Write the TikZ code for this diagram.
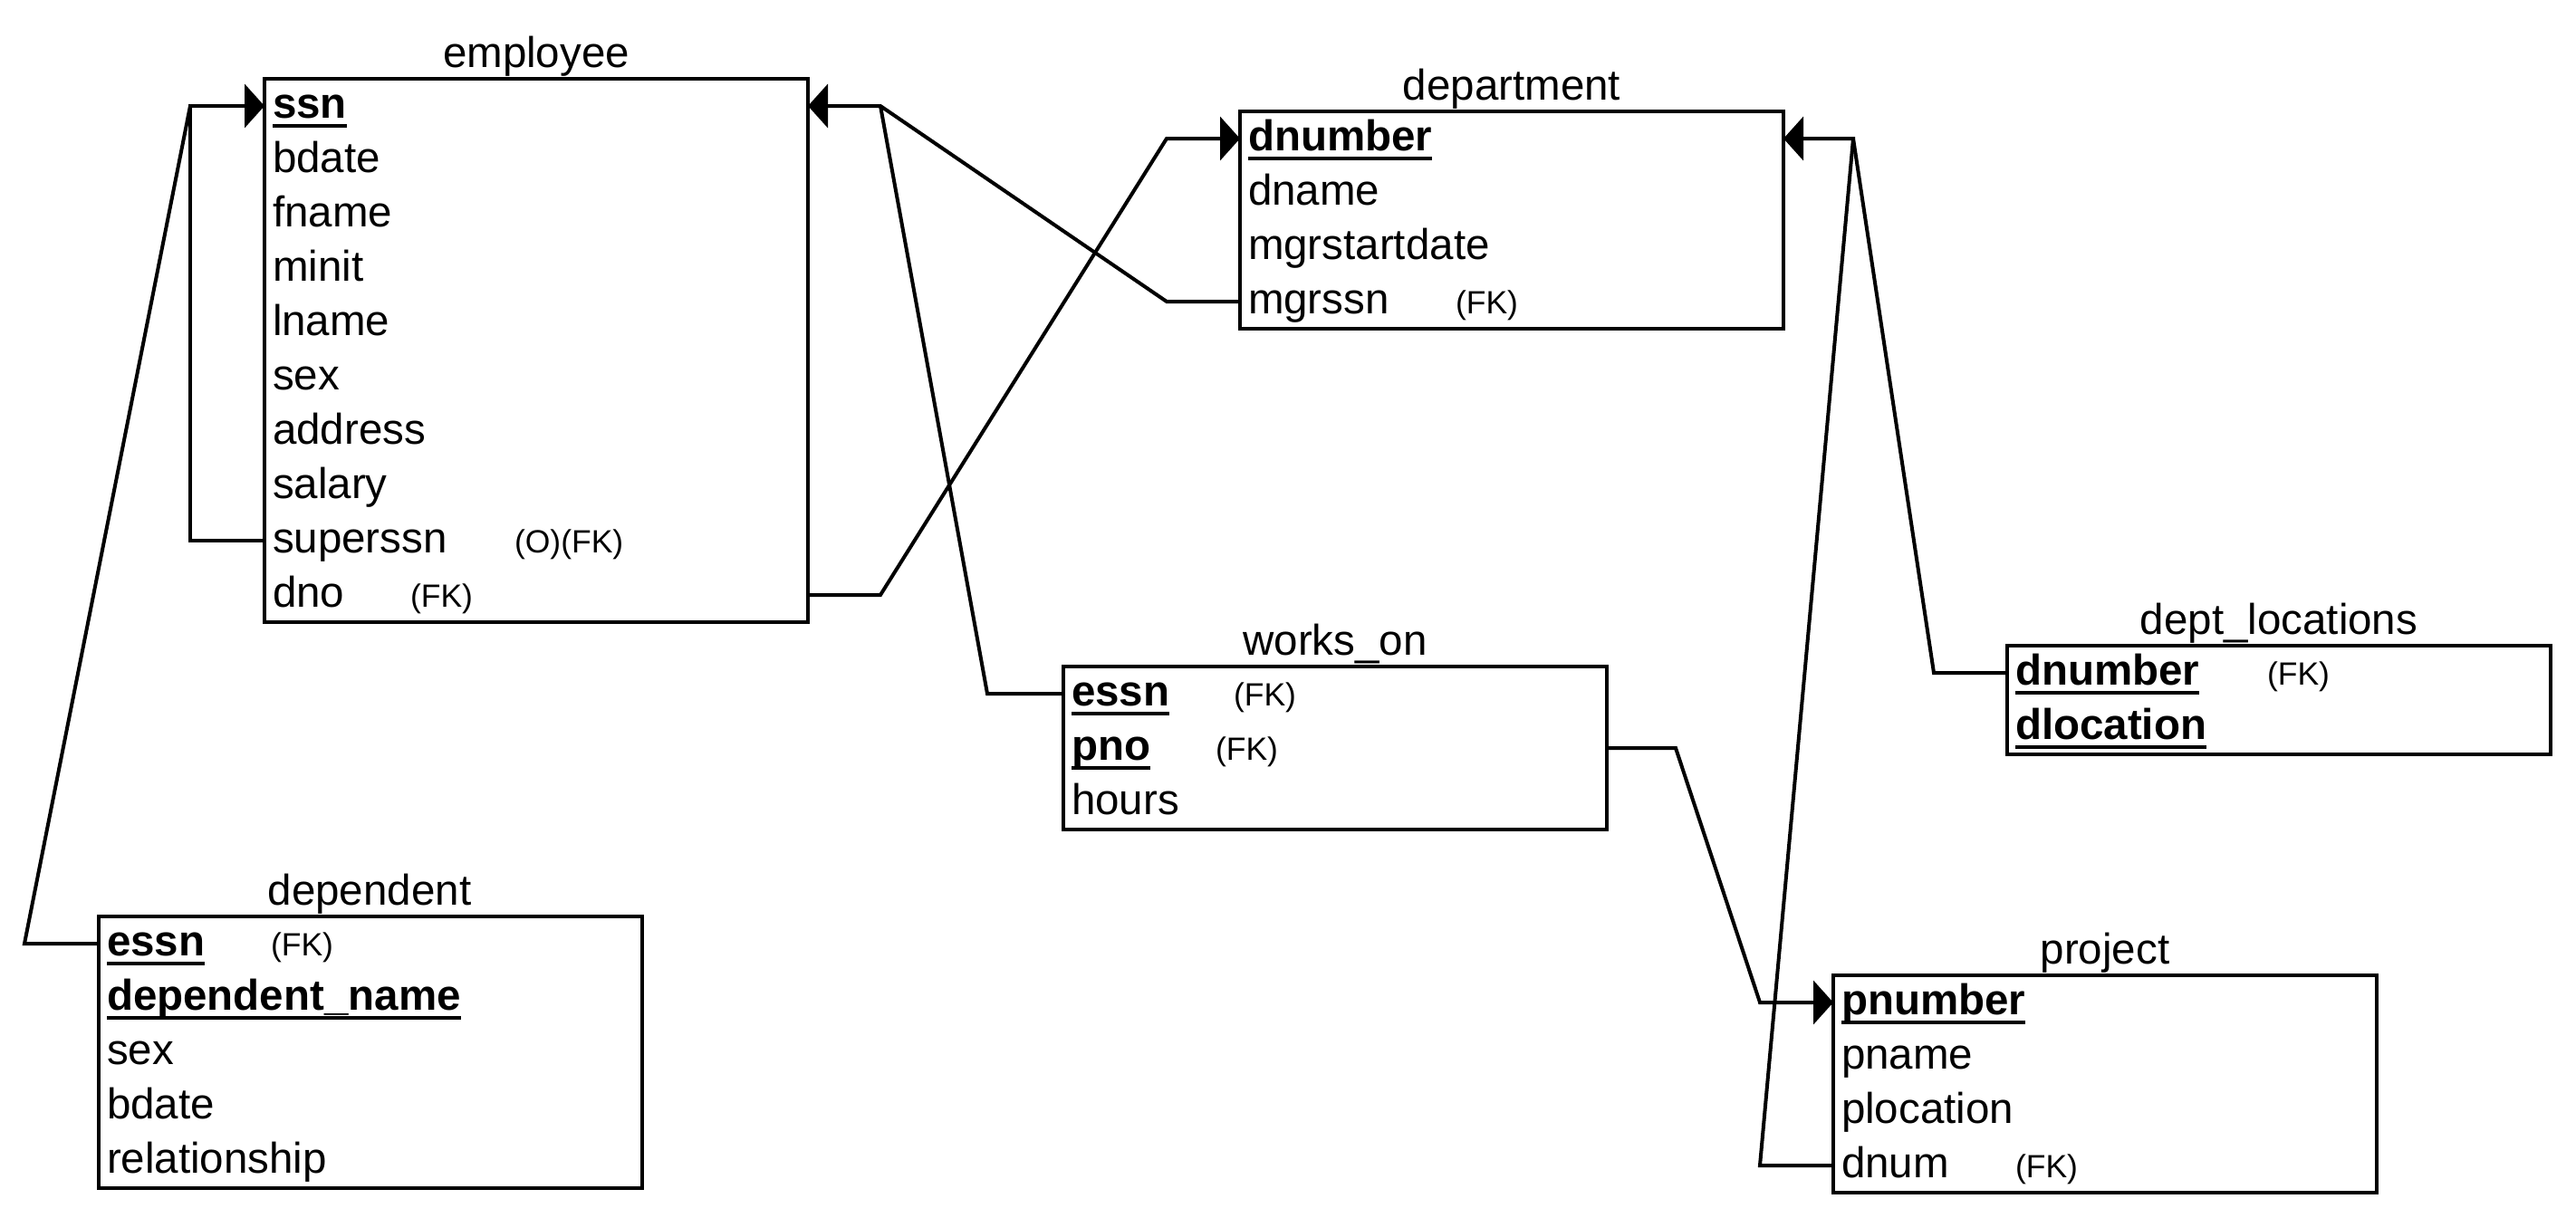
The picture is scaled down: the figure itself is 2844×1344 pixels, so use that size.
\documentclass[tikz,border=0pt]{standalone}
\usepackage{fontspec}
\setmainfont{Liberation Sans}
\usetikzlibrary{arrows.meta,calc}
\begin{document}
\begin{tikzpicture}[x=1pt,y=-1pt,
  tbl/.style={draw,line width=4pt,minimum width=600pt,anchor=north west,inner sep=0pt,outer sep=0pt},
  fld/.style={anchor=base west,inner sep=0pt,outer sep=0pt,font=\fontsize{47.5}{57}\selectfont},
  keyfld/.style={anchor=base west,inner sep=0pt,outer sep=0pt,font=\fontsize{47.5}{57}\selectfont\bfseries},
  fk/.style={anchor=base west,inner sep=0pt,outer sep=0pt,font=\fontsize{35.5}{42}\selectfont},
  ttl/.style={anchor=base,inner sep=0pt,outer sep=0pt,font=\fontsize{47.5}{57}\selectfont},
  ul/.style={line width=3.4pt},
  conn/.style={line width=4pt},
  arr/.style={conn,-{Triangle[length=22pt,width=48pt]}}]
\useasboundingbox (0,0) rectangle (2844,1344);

% ---------- employee ----------
\node[tbl,minimum height=600pt] (emp) at (292,87) {};
\node[ttl] (empT) at (592,74) {employee};
\node[keyfld] (empK) at (301,130) {ssn};
\draw[ul] ([yshift=-9pt]empK.base west) -- ([yshift=-9pt]empK.base east);
\foreach \t [count=\i from 1] in {bdate,fname,minit,lname,sex,address,salary,superssn,dno}
  \node[fld] (emp\i) at (301,{130+60*\i}) {\t};
\node[fk] (empFK1) at (568,610) {(O)(FK)};
\node[fk] (empFK2) at (453,670) {(FK)};

% ---------- department ----------
\node[tbl,minimum height=240pt] (dep) at (1369,123) {};
\node[ttl] (depT) at (1669,110) {department};
\node[keyfld] (depK) at (1378,166) {dnumber};
\draw[ul] ([yshift=-9pt]depK.base west) -- ([yshift=-9pt]depK.base east);
\foreach \t [count=\i from 1] in {dname,mgrstartdate,mgrssn}
  \node[fld] (dep\i) at (1378,{166+60*\i}) {\t};
\node[fk] (depFK) at (1607,346) {(FK)};

% ---------- works_on ----------
\node[tbl,minimum height=180pt] (wo) at (1174,736) {};
\node[ttl] (woT) at (1474,723) {works\_on};
\node[keyfld] (woK1) at (1183,779) {essn};
\draw[ul] ([yshift=-9pt]woK1.base west) -- ([yshift=-9pt]woK1.base east);
\node[keyfld] (woK2) at (1183,839) {pno};
\draw[ul] ([yshift=-9pt]woK2.base west) -- ([yshift=-9pt]woK2.base east);
\node[fld] (wo3) at (1183,899) {hours};
\node[fk] (woFK1) at (1362,779) {(FK)};
\node[fk] (woFK2) at (1342,839) {(FK)};

% ---------- dept_locations ----------
\node[tbl,minimum height=120pt] (dl) at (2216,713) {};
\node[ttl] (dlT) at (2516,700) {dept\_locations};
\node[keyfld] (dlK1) at (2225,756) {dnumber};
\draw[ul] ([yshift=-9pt]dlK1.base west) -- ([yshift=-9pt]dlK1.base east);
\node[keyfld] (dlK2) at (2225,816) {dlocation};
\draw[ul] ([yshift=-9pt]dlK2.base west) -- ([yshift=-9pt]dlK2.base east);
\node[fk] (dlFK) at (2503,756) {(FK)};

% ---------- project ----------
\node[tbl,minimum height=240pt] (pr) at (2024,1077) {};
\node[ttl] (prT) at (2324,1064) {project};
\node[keyfld] (prK) at (2033,1120) {pnumber};
\draw[ul] ([yshift=-9pt]prK.base west) -- ([yshift=-9pt]prK.base east);
\foreach \t [count=\i from 1] in {pname,plocation,dnum}
  \node[fld] (pr\i) at (2033,{1120+60*\i}) {\t};
\node[fk] (prFK) at (2225,1300) {(FK)};

% ---------- dependent ----------
\node[tbl,minimum height=300pt] (dp) at (109,1012) {};
\node[ttl] (dpT) at (408,999) {dependent};
\node[keyfld] (dpK1) at (118,1055) {essn};
\draw[ul] ([yshift=-9pt]dpK1.base west) -- ([yshift=-9pt]dpK1.base east);
\node[keyfld] (dpK2) at (118,1115) {dependent\_name};
\draw[ul] ([yshift=-9pt]dpK2.base west) -- ([yshift=-9pt]dpK2.base east);
\foreach \t [count=\i from 3] in {sex,bdate,relationship}
  \node[fld] (dp\i) at (118,{1055+60*(\i-1)}) {\t};
\node[fk] (dpFK) at (299,1055) {(FK)};

% ---------- connection points ----------
\coordinate (empSsnL) at ($(emp.north west)+(0,30)$);
\coordinate (empSsnR) at ($(emp.north east)+(0,30)$);
\coordinate (empSupL) at ($(emp.north west)+(0,510)$);
\coordinate (empDnoR) at ($(emp.north east)+(0,570)$);
\coordinate (depNumL) at ($(dep.north west)+(0,30)$);
\coordinate (depNumR) at ($(dep.north east)+(0,30)$);
\coordinate (depMgrL) at ($(dep.north west)+(0,210)$);
\coordinate (woEssnL) at ($(wo.north west)+(0,30)$);
\coordinate (woPnoR) at ($(wo.north east)+(0,90)$);
\coordinate (dlNumL) at ($(dl.north west)+(0,30)$);
\coordinate (prNumL) at ($(pr.north west)+(0,30)$);
\coordinate (prDnumL) at ($(pr.north west)+(0,210)$);
\coordinate (dpEssnL) at ($(dp.north west)+(0,30)$);

% bend points
\coordinate (jS) at (210,117);
\coordinate (jE) at (972,117);
\coordinate (jD) at (2046,153);
\coordinate (bDep) at (27,1042);
\coordinate (bDno1) at (972,657);
\coordinate (bDno2) at (1288,153);
\coordinate (bMgr) at (1288,333);
\coordinate (bWo) at (1090,766);
\coordinate (bPno1) at (1850,826);
\coordinate (bPno2) at (1943,1107);
\coordinate (bDnum) at (1943,1287);
\coordinate (bDl) at (2135,743);

% ---------- connectors ----------
\draw[arr] (empSupL) -- (empSupL -| jS) -- (jS) -- (empSsnL);
\draw[conn] (dpEssnL) -- (bDep) -- (jS);
\draw[arr] (empDnoR) -- (bDno1) -- (bDno2) -- (depNumL);
\draw[arr] (depMgrL) -- (bMgr) -- (jE) -- (empSsnR);
\draw[conn] (woEssnL) -- (bWo) -- (jE);
\draw[arr] (woPnoR) -- (bPno1) -- (bPno2) -- (prNumL);
\draw[arr] (prDnumL) -- (bDnum) -- (jD) -- (depNumR);
\draw[conn] (dlNumL) -- (bDl) -- (jD);
\end{tikzpicture}
\end{document}
